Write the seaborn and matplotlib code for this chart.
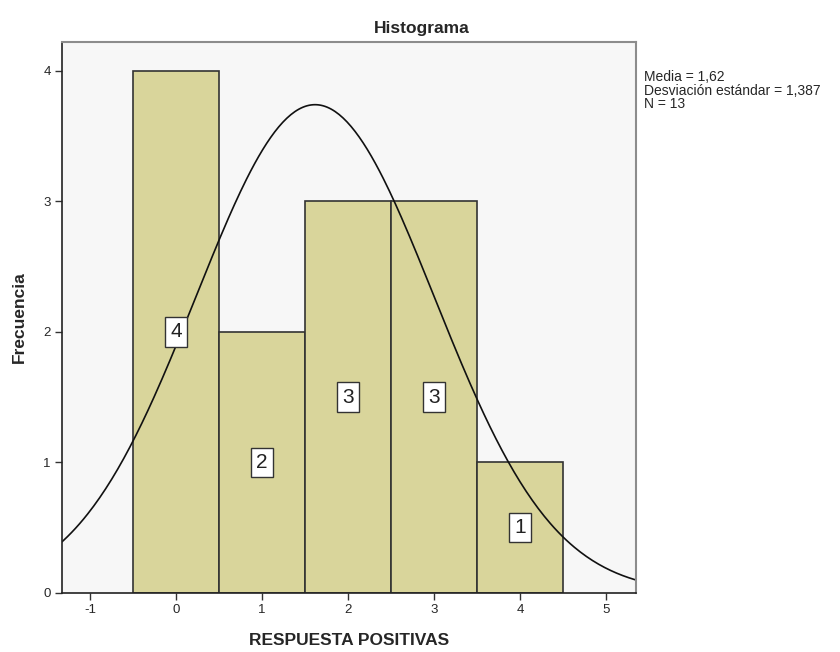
import numpy as np
import seaborn as sns
import matplotlib.pyplot as plt

# respuestas positivas por caso (N = 13)
valores = [0, 1, 2, 3, 4]
frecuencias = [4, 2, 3, 3, 1]
respuestas = np.repeat(valores, frecuencias)

media = respuestas.mean()
desv = respuestas.std(ddof=1)
n = len(respuestas)

sns.set_style("white")
plt.rcParams['font.family'] = ['Liberation Sans', 'DejaVu Sans']
plt.rcParams['axes.unicode_minus'] = False

fig = plt.figure(figsize=(8.4, 6.52), dpi=100)
ax = fig.add_axes([0.0738, 0.0905, 0.6833, 0.8451])
ax.set_facecolor('#f7f7f7')

sns.histplot(x=respuestas, discrete=True, color='#d9d59b', edgecolor='#333333',
             linewidth=1.2, alpha=1, ax=ax)

# etiquetas de frecuencia en el centro de cada barra
ax.bar_label(ax.containers[0], label_type='center', fontsize=15, color='#222222',
             bbox=dict(boxstyle='square,pad=0.25', fc='white', ec='#333333', lw=1))

# curva normal
xs = np.linspace(-1.5, 5.5, 300)
ys = n * np.exp(-0.5 * ((xs - media) / desv) ** 2) / (desv * np.sqrt(2 * np.pi))
ax.plot(xs, ys, color='#111111', lw=1.2)

ax.set_xlim(-1.33, 5.35)
ax.set_ylim(0, 4.22)
ax.set_xticks(range(-1, 6))
ax.set_yticks(range(0, 5))
ax.tick_params(axis='both', direction='out', length=5, width=1, color='#333333',
               labelsize=9.5, bottom=True, left=True, pad=3)

for s in ['left', 'bottom']:
    ax.spines[s].set_color('#222222')
    ax.spines[s].set_linewidth(1.2)
for s in ['top', 'right']:
    ax.spines[s].set_color('#8c8c8c')
    ax.spines[s].set_linewidth(1.5)

ax.set_xlabel('RESPUESTA POSITIVAS', fontsize=12.5, fontweight='bold', labelpad=12)
ax.set_ylabel('Frecuencia', fontsize=12.5, fontweight='bold', labelpad=12)

fig.text(0.502, 0.957, 'Histograma', ha='center', va='center', fontsize=12.5, fontweight='bold')

resumen = (f"Media = {media:.2f}\nDesviación estándar = {desv:.3f}\nN = {n}").replace('.', ',')
fig.text(0.767, 0.892, resumen, ha='left', va='top', fontsize=10, linespacing=0.92)

fig.savefig('out.png', dpi=100, facecolor='white')
